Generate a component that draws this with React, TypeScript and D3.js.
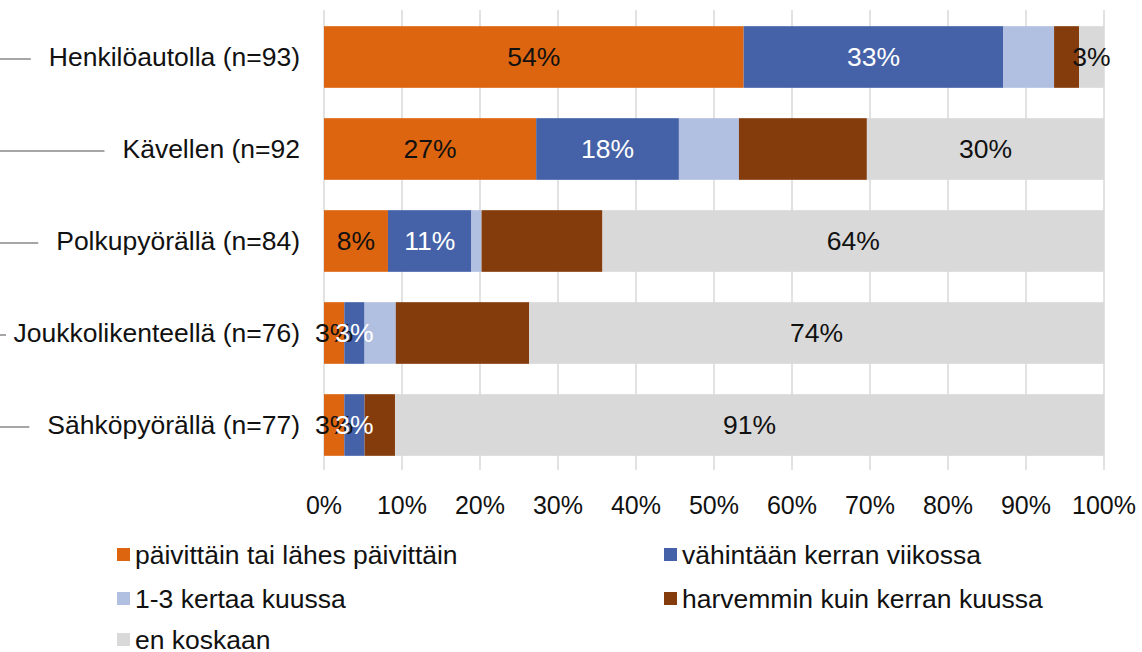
import React, { useEffect, useRef } from 'react';
import * as d3 from 'd3';

const categories = [
  'Henkilöautolla (n=93)',
  'Kävellen (n=92',
  'Polkupyörällä (n=84)',
  'Joukkolikenteellä (n=76)',
  'Sähköpyörällä (n=77)',
];

const seriesNames = [
  'päivittäin tai lähes päivittäin',
  'vähintään kerran viikossa',
  '1-3 kertaa kuussa',
  'harvemmin kuin kerran kuussa',
  'en koskaan',
];

// one array per series, in category order (percent)
const daily = [53.8, 27.2, 8.2, 2.6, 2.6];
const weekly = [33.3, 18.3, 10.7, 2.6, 2.6];
const monthly = [6.5, 7.7, 1.3, 4.0, 0];
const rarely = [3.2, 16.4, 15.5, 17.1, 3.9];
const never = [3.2, 30.4, 64.3, 73.7, 90.9];

// series that carry data labels
const labelledSeries = [0, 1, 4];

const ticks = [0, 10, 20, 30, 40, 50, 60, 70, 80, 90, 100];

const colors = ['#DE650F', '#4562A8', '#B1BFE1', '#843C0C', '#D9D9D9'];
const labelColors = ['#111111', '#ffffff', '#111111', '#ffffff', '#111111'];

const App = () => {
  const svgRef = useRef<SVGSVGElement>(null);

  useEffect(() => {
    document.body.style.margin = '0';
    const width = 1142;
    const height = 652;
    const font = '"Liberation Sans", Arial, sans-serif';
    const fontSize = 26.5;

    const svg = d3.select(svgRef.current);
    svg.selectAll('*').remove();
    svg.attr('width', width).attr('height', height).style('font-family', font);

    const values = [daily, weekly, monthly, rarely, never];

    const x = d3.scaleLinear().domain([0, 100]).range([324, 1104]);
    const y = d3
      .scaleBand()
      .domain(categories)
      .range([11, 471])
      .paddingInner(0.33)
      .paddingOuter(0.165);

    // Gridlines
    svg
      .append('g')
      .selectAll('line')
      .data(ticks)
      .enter()
      .append('line')
      .attr('x1', (d) => x(d))
      .attr('x2', (d) => x(d))
      .attr('y1', 10)
      .attr('y2', 470)
      .attr('stroke', '#D9D9D9')
      .attr('stroke-width', 1.5);

    // Stacked segments
    const segs: { cat: string; s: number; x0: number; x1: number; v: number }[] = [];
    categories.forEach((cat, i) => {
      let acc = 0;
      values.forEach((arr, s) => {
        segs.push({ cat, s, x0: acc, x1: acc + arr[i], v: arr[i] });
        acc += arr[i];
      });
    });

    svg
      .append('g')
      .selectAll('rect')
      .data(segs.filter((d) => d.v > 0))
      .enter()
      .append('rect')
      .attr('x', (d) => x(d.x0))
      .attr('y', (d) => y(d.cat)!)
      .attr('width', (d) => x(d.x1) - x(d.x0))
      .attr('height', y.bandwidth())
      .attr('fill', (d) => colors[d.s]);

    // Data labels
    svg
      .append('g')
      .selectAll('text')
      .data(segs.filter((d) => labelledSeries.includes(d.s)))
      .enter()
      .append('text')
      .attr('x', (d) => x((d.x0 + d.x1) / 2))
      .attr('y', (d) => y(d.cat)! + y.bandwidth() / 2)
      .attr('dy', '0.35em')
      .attr('text-anchor', 'middle')
      .attr('font-size', fontSize)
      .attr('fill', (d) => labelColors[d.s])
      .text((d) => `${Math.round(d.v)}%`);

    // Category labels with leader lines
    const catG = svg.append('g');
    categories.forEach((cat) => {
      const cy = y(cat)! + y.bandwidth() / 2;
      const t = catG
        .append('text')
        .attr('x', 300)
        .attr('y', cy)
        .attr('dy', '0.35em')
        .attr('text-anchor', 'end')
        .attr('font-size', fontSize)
        .attr('fill', '#111')
        .text(cat);
      const w = (t.node() as SVGTextElement).getComputedTextLength();
      const end = Math.max(6, 300 - w - 18);
      catG
        .append('line')
        .attr('x1', 0)
        .attr('x2', end)
        .attr('y1', cy + 2)
        .attr('y2', cy + 2)
        .attr('stroke', '#A6A6A6')
        .attr('stroke-width', 2);
    });

    // X axis tick labels
    svg
      .append('g')
      .selectAll('text')
      .data(ticks)
      .enter()
      .append('text')
      .attr('x', (d) => x(d))
      .attr('y', 505)
      .attr('dy', '0.35em')
      .attr('text-anchor', 'middle')
      .attr('font-size', 25)
      .attr('fill', '#111')
      .text((d) => `${d}%`);

    // Legend
    const legendPos = [
      [117, 555],
      [664, 555],
      [117, 599],
      [664, 599],
      [117, 640],
    ];
    const legend = svg
      .append('g')
      .selectAll('g')
      .data(seriesNames)
      .enter()
      .append('g')
      .attr('transform', (_, i) => `translate(${legendPos[i][0]},${legendPos[i][1]})`);
    legend
      .append('rect')
      .attr('x', 0)
      .attr('y', -7)
      .attr('width', 13)
      .attr('height', 13)
      .attr('fill', (_, i) => colors[i]);
    legend
      .append('text')
      .attr('x', 18)
      .attr('y', 0)
      .attr('dy', '0.35em')
      .attr('font-size', fontSize)
      .attr('fill', '#111')
      .text((d) => d);
  }, []);

  return <svg ref={svgRef} style={{ display: 'block' }}></svg>;
};

export default App;
